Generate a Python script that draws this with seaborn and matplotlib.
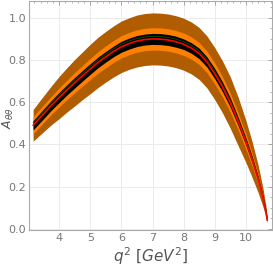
import numpy as np
import matplotlib
matplotlib.use("Agg")
import matplotlib.pyplot as plt
from matplotlib.ticker import AutoMinorLocator
import seaborn as sns

# values
q2 = [3.16, 3.5, 3.75, 4.0, 4.25, 4.5, 4.75, 5.0, 5.25, 5.5, 5.75, 6.0, 6.25, 6.5, 6.75,
      7.0, 7.25, 7.5, 7.75, 8.0, 8.25, 8.5, 8.75, 9.0, 9.25, 9.5, 9.75, 10.0, 10.2, 10.4,
      10.55, 10.65, 10.69]
central = [0.490, 0.545, 0.585, 0.622, 0.658, 0.692, 0.725, 0.757, 0.788, 0.815, 0.840,
           0.862, 0.877, 0.889, 0.896, 0.899, 0.898, 0.894, 0.886, 0.874, 0.856, 0.830,
           0.790, 0.735, 0.672, 0.598, 0.510, 0.415, 0.330, 0.235, 0.150, 0.080, 0.040]
outer_err = [0.075, 0.085, 0.092, 0.100, 0.105, 0.110, 0.113, 0.117, 0.119, 0.120, 0.121,
             0.122, 0.122, 0.123, 0.123, 0.123, 0.123, 0.123, 0.123, 0.123, 0.123, 0.123,
             0.123, 0.123, 0.123, 0.122, 0.115, 0.100, 0.085, 0.065, 0.045, 0.025, 0.010]
inner_err = [0.040, 0.042, 0.043, 0.045, 0.046, 0.048, 0.049, 0.050, 0.051, 0.052, 0.052,
             0.053, 0.053, 0.053, 0.053, 0.053, 0.053, 0.053, 0.053, 0.053, 0.053, 0.052,
             0.051, 0.050, 0.048, 0.045, 0.041, 0.036, 0.030, 0.023, 0.016, 0.009, 0.004]
black_err = [0.022, 0.023, 0.023, 0.024, 0.024, 0.025, 0.025, 0.025, 0.025, 0.025, 0.025,
             0.026, 0.026, 0.026, 0.026, 0.026, 0.026, 0.026, 0.026, 0.025, 0.025, 0.025,
             0.024, 0.024, 0.023, 0.022, 0.020, 0.018, 0.015, 0.011, 0.008, 0.005, 0.003]

x_ticks = [4, 5, 6, 7, 8, 9, 10]
y_ticks = [0.0, 0.2, 0.4, 0.6, 0.8, 1.0]

sns.set_style("white")
plt.rcParams['font.family'] = ['Liberation Sans Narrow', 'DejaVu Sans']

x = np.array(q2)
c = np.array(central)

fig = plt.figure(figsize=(2.73, 2.73), dpi=100)
ax = fig.add_axes([0.106, 0.158, 0.89, 0.838])

ax.fill_between(x, c - np.array(outer_err), c + np.array(outer_err), color="#b05c00", lw=0, zorder=2)
ax.fill_between(x, c - np.array(inner_err), c + np.array(inner_err), color="#ff8000", lw=0, zorder=3)
ax.fill_between(x, c - np.array(black_err), c + np.array(black_err), color="black", lw=0, zorder=4)
sns.lineplot(x=x, y=c + 0.012, ax=ax, color="#006400", lw=0.5, zorder=5)
sns.lineplot(x=x, y=c, ax=ax, color="red", lw=1.2, zorder=6)

ax.set_xlim(3.026, 10.84)
ax.set_ylim(-0.005, 1.078)
ax.set_xticks(x_ticks)
ax.set_yticks(y_ticks)
ax.set_yticklabels(["0.0", "0.2", "0.4", "0.6", "0.8", "1.0"])
ax.xaxis.set_minor_locator(AutoMinorLocator(5))
ax.yaxis.set_minor_locator(AutoMinorLocator(4))
ax.grid(True, which="major", color="#ebebeb", lw=0.7, zorder=0)
ax.set_axisbelow(True)
ax.tick_params(which="both", direction="in", colors="#999999", labelcolor="#777777",
               top=True, right=True, labelsize=8, pad=2)
ax.tick_params(which="major", length=3, width=0.6)
ax.tick_params(which="minor", length=1.5, width=0.5)
for s in ax.spines.values():
    s.set_color("#aaaaaa")
    s.set_linewidth(0.8)

ax.set_xlabel(r"$q^2$ [$GeV^2$]", fontsize=11, color="#555555", labelpad=2)
ax.set_ylabel(r"$A_{\theta\theta}$", fontsize=9, color="#555555")
ax.yaxis.set_label_coords(-0.052, 0.49)

fig.savefig("out.png", dpi=100)
